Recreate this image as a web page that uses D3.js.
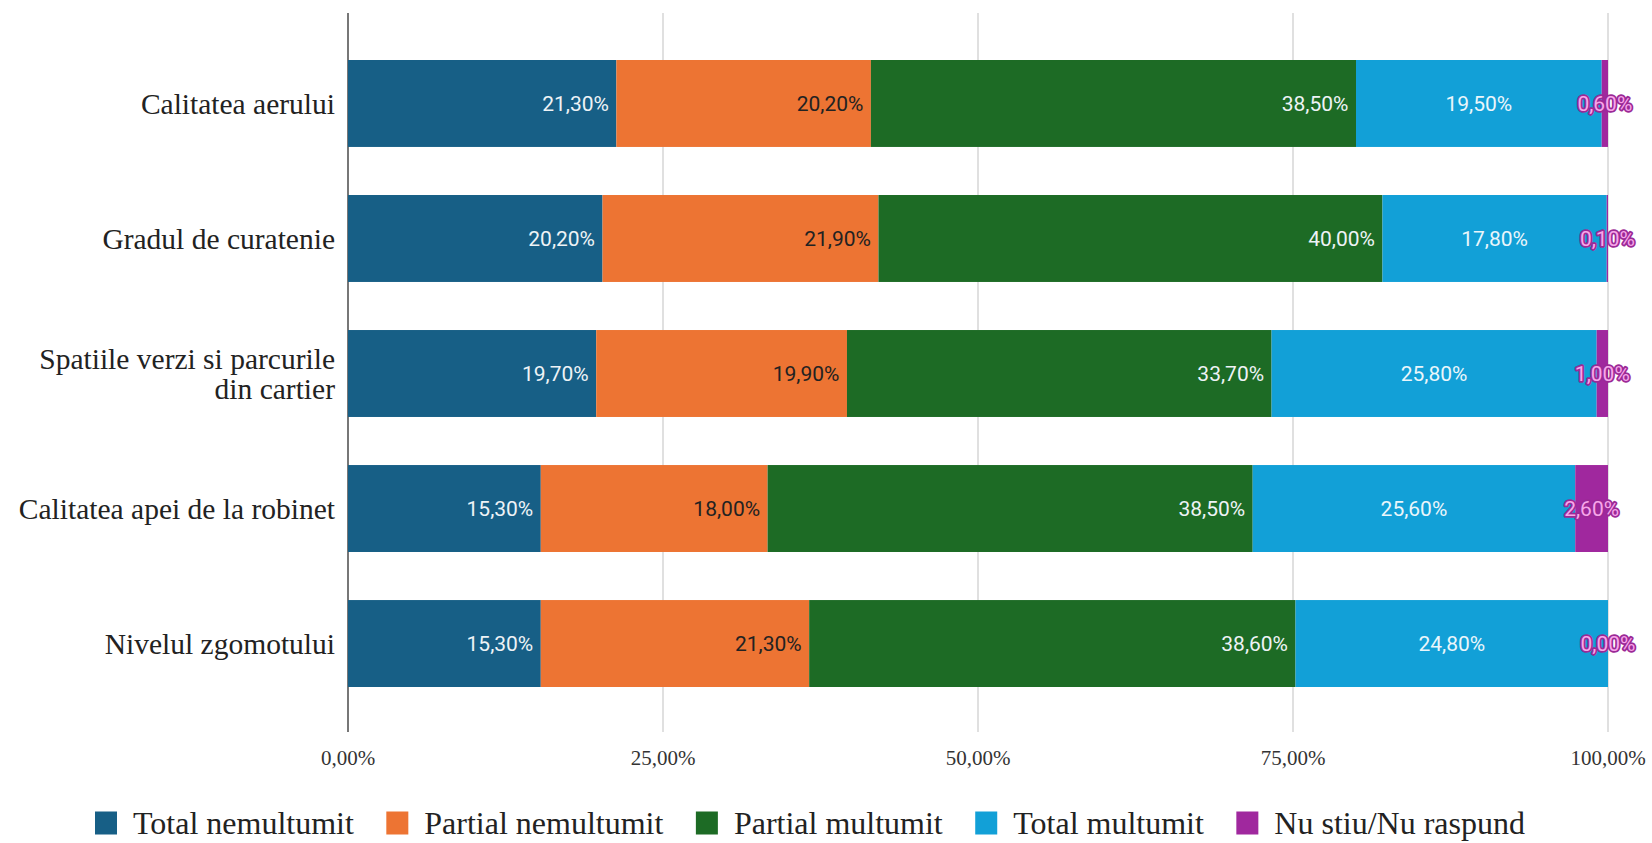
<!DOCTYPE html>
<html lang="ro">
<head>
    <meta charset="UTF-8">
    <title>Satisfactie cartier</title>
    <style>
        body {
            margin: 0;
            background: #ffffff;
            overflow: hidden;
        }
        svg {
            display: block;
        }
        .cat-label {
            font-family: "Liberation Serif", "Times New Roman", serif;
            font-size: 29.5px;
            fill: #222;
        }
        .tick-label {
            font-family: "Liberation Serif", "Times New Roman", serif;
            font-size: 21px;
            fill: #333;
        }
        .legend text {
            font-family: "Liberation Serif", "Times New Roman", serif;
            font-size: 32px;
            fill: #222;
        }
        .val {
            font-family: Roboto, "Noto Sans", sans-serif;
            font-size: 21px;
        }
    </style>
</head>
<body>
<svg id="chart"></svg>

<script src="https://d3js.org/d3.v7.min.js"></script>
<script>
    // Data
    const categories = [
        ["Calitatea aerului"],
        ["Gradul de curatenie"],
        ["Spatiile verzi si parcurile", "din cartier"],
        ["Calitatea apei de la robinet"],
        ["Nivelul zgomotului"]
    ];
    const seriesNames = ["Total nemultumit", "Partial nemultumit", "Partial multumit", "Total multumit", "Nu stiu/Nu raspund"];
    const totalNemultumit   = [21.3, 20.2, 19.7, 15.3, 15.3];
    const partialNemultumit = [20.2, 21.9, 19.9, 18.0, 21.3];
    const partialMultumit   = [38.5, 40.0, 33.7, 38.5, 38.6];
    const totalMultumit     = [19.5, 17.8, 25.8, 25.6, 24.8];
    const nuStiu            = [0.6, 0.1, 1.0, 2.6, 0.0];
    const xTicks = [0, 25, 50, 75, 100];

    const colors = ["#175f86", "#ed7433", "#1d6b25", "#12a0d7", "#a0289e"];
    const labelFill = ["#eef3f6", "#222222", "#eef3f6", "#eaf6fb", "#f7a6ea"];

    const W = 1652, H = 843;
    const margin = { top: 13, right: 44, bottom: 111, left: 348 };
    const width = W - margin.left - margin.right;
    const height = H - margin.top - margin.bottom;

    const svg = d3.select("#chart").attr("width", W).attr("height", H);
    const g = svg.append("g").attr("transform", `translate(${margin.left},${margin.top})`);

    const allSeries = [totalNemultumit, partialNemultumit, partialMultumit, totalMultumit, nuStiu];
    const rows = categories.map((c, i) => {
        const r = { idx: i };
        seriesNames.forEach((s, j) => r[s] = allSeries[j][i]);
        return r;
    });

    const stacked = d3.stack().keys(seriesNames)(rows);

    const x = d3.scaleLinear().domain([0, 100]).range([0, width]);
    const y = d3.scaleBand()
        .domain(rows.map(d => d.idx))
        .range([47, 674])
        .paddingInner(0.356)
        .paddingOuter(0);

    const fmt = v => v.toFixed(2).replace(".", ",") + "%";

    // grid lines
    g.selectAll(".grid")
        .data(xTicks)
        .join("line")
        .attr("x1", d => x(d))
        .attr("x2", d => x(d))
        .attr("y1", 0)
        .attr("y2", height)
        .attr("stroke", d => d === 0 ? "#555" : "#d0d0d0")
        .attr("stroke-width", d => d === 0 ? 1.6 : 1.3);

    // bars
    const layers = g.selectAll(".layer")
        .data(stacked)
        .join("g")
        .attr("fill", (d, i) => colors[i]);

    layers.selectAll("rect")
        .data(d => d)
        .join("rect")
        .attr("x", d => x(d[0]))
        .attr("y", d => y(d.data.idx))
        .attr("width", d => Math.max(0, Math.min(x(d[1]), x(100)) - x(d[0])))
        .attr("height", y.bandwidth());

    // value labels
    stacked.forEach((layer, j) => {
        layer.forEach(d => {
            const v = d.data[seriesNames[j]];
            const end = Math.min(x(d[1]), x(100));
            let tx, anchor;
            if (j >= 3) { tx = (x(d[0]) + end) / 2; anchor = "middle"; }
            else { tx = end - 7.5; anchor = "end"; }
            const t = g.append("text")
                .attr("class", "val")
                .attr("x", tx)
                .attr("y", y(d.data.idx) + y.bandwidth() / 2)
                .attr("dy", "0.36em")
                .attr("text-anchor", anchor)
                .attr("fill", labelFill[j])
                .text(fmt(v));
            if (j === 4) {
                t.attr("stroke", "#9b2a96")
                    .attr("stroke-width", 3.5)
                    .attr("paint-order", "stroke")
                    .attr("stroke-linejoin", "round");
            }
        });
    });

    // category labels
    categories.forEach((lines, i) => {
        const cy = y(i) + y.bandwidth() / 2;
        const t = g.append("text")
            .attr("class", "cat-label")
            .attr("text-anchor", "end")
            .attr("y", cy - (lines.length - 1) * 15.25);
        lines.forEach((ln, k) => {
            t.append("tspan")
                .attr("x", -13)
                .attr("dy", k === 0 ? "0.35em" : "30.5px")
                .text(ln);
        });
    });

    // x tick labels
    g.selectAll(".tick-label")
        .data(xTicks)
        .join("text")
        .attr("class", "tick-label")
        .attr("x", d => x(d))
        .attr("y", height + 33)
        .attr("text-anchor", "middle")
        .text(d => d.toFixed(2).replace(".", ",") + "%");

    // legend, spread between x=95 and x=1525
    const legendLeft = 95, legendRight = 1525;
    const legend = svg.append("g").attr("class", "legend").attr("transform", "translate(0,823)");
    const items = seriesNames.map((name, i) => {
        const it = legend.append("g");
        it.append("rect")
            .attr("x", 0).attr("y", -11.5)
            .attr("width", 22).attr("height", 23)
            .attr("fill", colors[i]);
        const txt = it.append("text")
            .attr("x", 38)
            .attr("y", 0)
            .attr("dy", "0.35em")
            .text(name);
        return { it, w: 38 + txt.node().getComputedTextLength() };
    });
    const gap = (legendRight - legendLeft - d3.sum(items, d => d.w)) / (items.length - 1);
    let lx = legendLeft;
    items.forEach(d => {
        d.it.attr("transform", `translate(${lx},0)`);
        lx += d.w + gap;
    });
</script>
</body>
</html>
